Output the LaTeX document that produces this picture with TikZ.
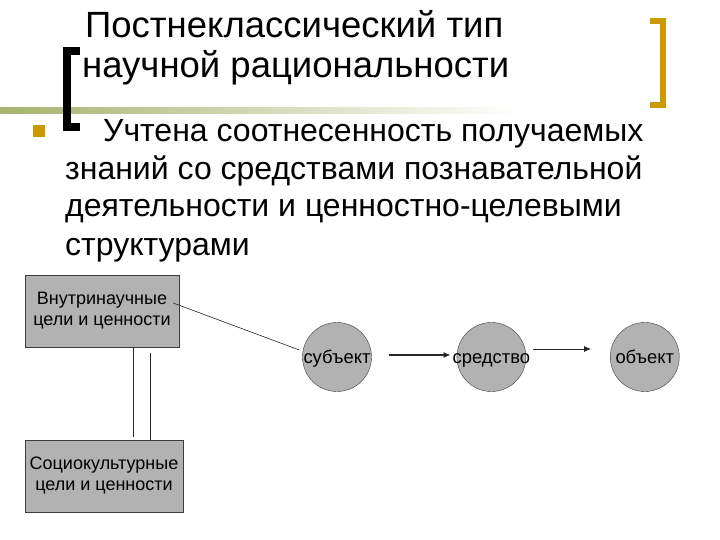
\documentclass[tikz,border=0pt]{standalone}
\usepackage{fontspec}
\setmainfont{Liberation Sans}
\usepackage{tikz}
\usetikzlibrary{arrows.meta,positioning}

\definecolor{boxgray}{RGB}{178,178,178}
\definecolor{edgegray}{RGB}{60,60,60}
\definecolor{gold}{RGB}{204,153,0}
\definecolor{olive}{RGB}{165,180,110}

\begin{document}
\begin{tikzpicture}[
    x=1pt, y=1pt,
    titletxt/.style={anchor=base west, inner sep=0pt, font=\fontsize{36.5}{40}\selectfont},
    bodytxt/.style={anchor=base west, inner sep=0pt, font=\fontsize{32}{37}\selectfont},
    box/.style={draw=edgegray, fill=boxgray, align=center, inner sep=2pt,
                minimum height=72pt, font=\fontsize{18}{21}\selectfont},
    ball/.style={circle, draw=edgegray, fill=boxgray, minimum size=69pt,
                 inner sep=-7pt, text height=16pt, text depth=4pt,
                 font=\fontsize{18.4}{20}\selectfont},
    flow/.style={-{Latex[length=7pt,width=6pt]}, draw=black!85},
    link/.style={draw=black!85, line width=0.6pt}
  ]
    \useasboundingbox (0,0) rectangle (720,-540);

    % decoration of the slide
    \shade[left color=olive, middle color=olive!75, right color=white]
      (0,-108) rectangle (520,-114);
    \draw[line width=8pt] (80,-51) -- (67,-51) -- (67,-127) -- (80,-127);
    \draw[gold, line width=6pt] (650,-21) -- (663,-21) -- (663,-105) -- (650,-105);
    \fill[gold] (33,-125) rectangle (45,-137);

    % title and text
    \node[titletxt] (title1) at (85,-38) {Постнеклассический тип};
    \node[titletxt] (title2) at (82,-78) {научной рациональности};
    \node[bodytxt] (body1) at (103,-142) {Учтена соотнесенность получаемых};
    \node[bodytxt] (body2) at (65,-180) {знаний со средствами познавательной};
    \node[bodytxt] (body3) at (65,-217) {деятельности и ценностно-целевыми};
    \node[bodytxt] (body4) at (65,-255) {структурами};

    % diagram
    \node[box, minimum width=154pt] (inner) at (102,-311) {Внутринаучные\\цели и ценности};
    \node[box, minimum width=158pt] (socio) at (104,-476) {Социокультурные\\цели и ценности};

    \node[ball] (subj) at (337,-357) {субъект};
    \node[ball, right=85pt of subj] (tool) {средство};
    \node[ball, right=84pt of tool] (obj)  {объект};

    \draw[link] ([xshift=-6pt,yshift=8pt]inner.east) -- ([xshift=-3pt,yshift=7pt]subj.west);
    \draw[link] ([xshift=31pt]inner.south) -- ([xshift=29pt,yshift=3pt]socio.north);
    \draw[link] ([xshift=48pt,yshift=-6pt]inner.south) -- ([xshift=46pt]socio.north);

    \draw[flow, line width=1.5pt] ([xshift=17pt,yshift=2pt]subj.east) -- ([xshift=-6pt,yshift=2pt]tool.west);
    \draw[flow, line width=0.8pt] ([xshift=7pt,yshift=8pt]tool.east) -- ([xshift=-19pt,yshift=8pt]obj.west);
\end{tikzpicture}
\end{document}
